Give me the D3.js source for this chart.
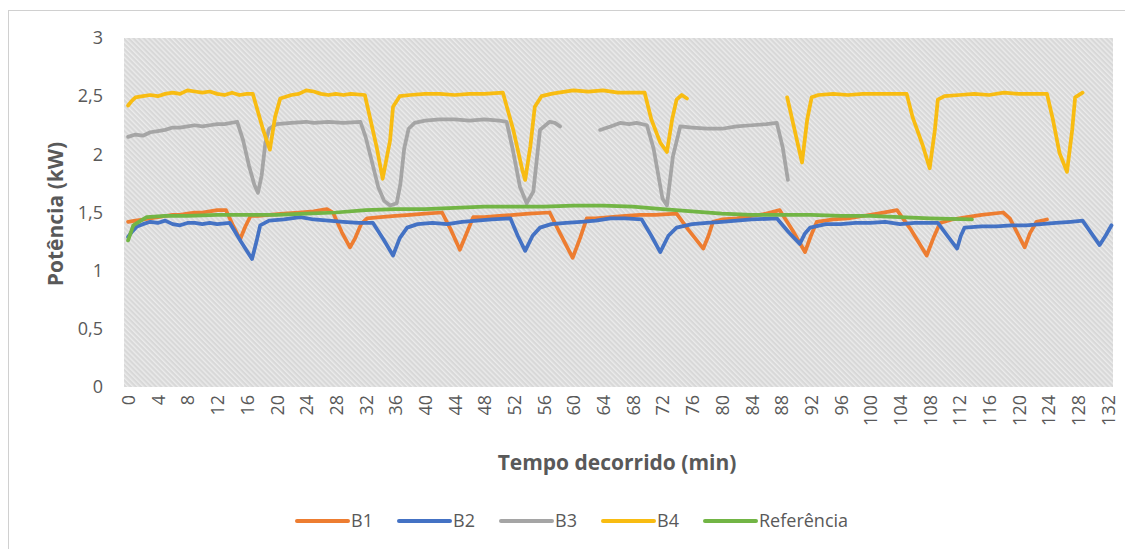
<!DOCTYPE html>
<html>
<head>
<meta charset="utf-8">
<script src="https://cdn.jsdelivr.net/npm/d3@7"></script>
<style>
  body { margin: 0; background: #fff; }
  text { font-family: "Open Sans", "Noto Sans", sans-serif; fill: #595959; }
</style>
</head>
<body>
<script>
// minutes, kW
var b1 = [[0,1.42],[1,1.43],[2,1.44],[3,1.45],[4,1.46],[5,1.47],[6,1.48],[7,1.48],[8,1.49],[9,1.50],[10,1.50],[11,1.51],[12,1.52],[13.2,1.52],
  [14.2,1.38],[15.1,1.27],[15.8,1.38],[16.5,1.47],[17.5,1.47],[19,1.48],[21,1.49],[23,1.50],[25,1.51],[26.8,1.53],[27.6,1.50],[28.8,1.33],
  [29.9,1.20],[30.6,1.28],[31.4,1.40],[32.2,1.45],[34,1.46],[36,1.47],[38,1.48],[40,1.49],[42.3,1.50],[43.5,1.35],[44.7,1.18],[45.6,1.32],
  [46.5,1.46],[48,1.46],[50,1.47],[52,1.48],[54,1.49],[56.8,1.50],[58.2,1.32],[59.9,1.11],[60.9,1.28],[61.8,1.45],[63,1.45],[65,1.46],
  [67,1.47],[69,1.48],[71,1.48],[73.9,1.49],[75.5,1.35],[77.5,1.19],[78.2,1.30],[78.8,1.42],[80,1.44],[82,1.45],[84,1.47],[86,1.49],
  [87.8,1.52],[89.5,1.35],[91.2,1.16],[92,1.30],[92.8,1.42],[95,1.44],[97,1.45],[99,1.47],[101,1.49],[103.6,1.52],[105.5,1.35],[107.6,1.13],
  [108.5,1.28],[109.4,1.41],[111,1.44],[113,1.46],[115,1.48],[117.9,1.50],[118.8,1.45],[120,1.30],[120.8,1.20],[121.5,1.32],[122.4,1.42],[123.8,1.44]];

var b2 = [[0,1.29],[0.6,1.34],[1.2,1.38],[2,1.40],[3,1.42],[4,1.41],[5,1.43],[6,1.40],[7,1.39],[8,1.41],[9,1.41],[10,1.40],[11,1.41],[12,1.40],
  [13.7,1.41],[15.2,1.25],[16.7,1.10],[17.3,1.25],[17.8,1.39],[19,1.43],[21,1.44],[23.2,1.46],[25,1.44],[27,1.43],[29,1.42],[31,1.41],[33,1.41],
  [34.4,1.27],[35.7,1.13],[36.6,1.28],[37.6,1.37],[39,1.40],[41,1.41],[43,1.40],[45,1.42],[47,1.43],[49,1.44],[51.5,1.45],[52.5,1.30],
  [53.5,1.17],[54.5,1.30],[55.5,1.37],[57,1.40],[59,1.41],[61,1.42],[63,1.43],[65,1.45],[67,1.45],[69.2,1.44],[70.5,1.30],[71.7,1.16],
  [72.8,1.30],[73.9,1.37],[76,1.40],[78,1.41],[80,1.42],[82,1.43],[84,1.44],[87.4,1.45],[89,1.33],[90.5,1.23],[91.2,1.32],[91.9,1.37],
  [94,1.40],[96,1.40],[98,1.41],[100,1.41],[102,1.42],[104,1.40],[106,1.41],[109.1,1.41],[110.4,1.30],[111.7,1.19],[112.2,1.30],[112.7,1.37],
  [115,1.38],[117,1.38],[119,1.39],[121,1.39],[123,1.40],[125,1.41],[127,1.42],[128.6,1.43],[129.8,1.32],[130.9,1.22],[131.7,1.30],[132.5,1.39]];

// B3 has a gap between ~58 and ~63.5 min
var b3a = [[0,2.15],[1,2.17],[2,2.16],[3,2.19],[4,2.20],[5,2.21],[6,2.23],[7,2.23],[8,2.24],[9,2.25],[10,2.24],[11,2.25],[12,2.26],[13,2.26],
  [14.7,2.28],[15.5,2.12],[16.3,1.90],[17,1.74],[17.5,1.67],[18,1.82],[18.5,2.10],[19,2.22],[20,2.26],[22,2.27],[24,2.28],[25,2.27],[27,2.28],
  [29,2.27],[31.3,2.28],[32,2.15],[32.8,1.95],[33.7,1.72],[34.5,1.60],[35.3,1.56],[36.2,1.58],[36.7,1.75],[37.2,2.05],[37.8,2.22],[38.6,2.27],
  [40,2.29],[42,2.30],[44,2.30],[46,2.29],[48,2.30],[50,2.29],[51,2.28],[51.8,2.05],[52.8,1.72],[53.7,1.58],[54.6,1.68],[55.5,2.21],
  [56.8,2.28],[57.5,2.27],[58.2,2.24]];
var b3b = [[63.6,2.21],[65,2.24],[66.3,2.27],[67.5,2.26],[68.5,2.27],[69.9,2.25],[70.8,2.05],[72,1.62],[72.6,1.56],[73.4,1.98],[74.4,2.24],
  [76,2.23],[78,2.22],[80,2.22],[82,2.24],[84,2.25],[86,2.26],[87.4,2.27],[88.2,2.06],[88.9,1.78]];

// B4 has a gap between ~75 and ~89 min
var b4a = [[0,2.42],[0.5,2.46],[1,2.49],[2,2.50],[3,2.51],[4,2.50],[5,2.52],[6,2.53],[7,2.52],[8,2.55],[9,2.54],[10,2.53],[11,2.54],[12,2.52],
  [13,2.51],[14,2.53],[15,2.51],[16,2.52],[16.8,2.52],[18.2,2.21],[19.1,2.04],[19.8,2.32],[20.5,2.48],[22,2.51],[23,2.52],[24,2.55],[25,2.54],
  [26,2.52],[27,2.51],[28,2.52],[29,2.51],[30,2.52],[31.9,2.51],[33.5,2.06],[34.3,1.79],[35.3,2.12],[35.7,2.41],[36.6,2.50],[38,2.51],
  [40,2.52],[42,2.52],[44,2.51],[46,2.52],[48,2.52],[50.5,2.53],[51.9,2.21],[53.1,1.87],[53.5,1.78],[54.2,2.07],[54.8,2.41],[55.7,2.50],
  [57,2.52],[58,2.53],[60,2.55],[62,2.54],[64,2.55],[66,2.53],[68,2.53],[69.6,2.53],[70.5,2.30],[71.7,2.10],[72.6,2.02],[73.3,2.30],
  [73.9,2.47],[74.6,2.51],[75.3,2.48]];
var b4b = [[88.8,2.49],[89.8,2.21],[90.8,1.93],[91.5,2.30],[92.1,2.49],[93,2.51],[95,2.52],[97,2.51],[99,2.52],[101,2.52],[103,2.52],
  [104.9,2.52],[105.7,2.32],[107.1,2.07],[108,1.88],[108.7,2.21],[109.1,2.47],[110,2.50],[112,2.51],[114,2.52],[116,2.51],[118,2.53],
  [120,2.52],[122,2.52],[123.8,2.52],[124.6,2.30],[125.5,2.01],[126.5,1.85],[127.2,2.21],[127.6,2.49],[128.6,2.53]];

var ref = [[0,1.26],[0.7,1.39],[2.5,1.46],[5,1.47],[8,1.47],[12,1.48],[16,1.48],[20,1.48],[24,1.49],[28,1.50],[32,1.52],[36,1.53],
  [40,1.53],[44,1.54],[48,1.55],[52,1.55],[56,1.55],[60,1.56],[64,1.56],[68,1.55],[72,1.53],[76,1.51],[80,1.49],[84,1.48],[88,1.48],
  [92,1.48],[96,1.47],[100,1.47],[104,1.46],[108,1.45],[113.7,1.44]];

var seriesNames = ["B1", "B2", "B3", "B4", "Referência"];
var seriesColors = ["#ED7D31", "#4472C4", "#A5A5A5", "#F8BC12", "#72B545"];
var seriesData = [[b1], [b2], [b3a, b3b], [b4a, b4b], [ref]];

var xTicks = d3.range(0, 133, 4);
var yTicks = [0, 0.5, 1, 1.5, 2, 2.5, 3];

var width = 1125;
var height = 549;
var plot = {left: 124, right: 1113, top: 38, bottom: 387};

var ptBR = d3.formatLocale({decimal: ",", thousands: ".", grouping: [3], currency: ["R$", ""]});
var fmt = ptBR.format("~g");

var x = d3.scaleLinear().domain([-0.55, 132.7]).range([plot.left, plot.right]);
var y = d3.scaleLinear().domain([0, 3]).range([plot.bottom, plot.top]);

var svg = d3.select("body").append("svg")
    .attr("width", width)
    .attr("height", height);

// hatched plot background
var pat = svg.append("defs").append("pattern")
    .attr("id", "hatch")
    .attr("patternUnits", "userSpaceOnUse")
    .attr("width", 3.6)
    .attr("height", 3.6)
    .attr("patternTransform", "rotate(-45)");
pat.append("rect").attr("width", 3.6).attr("height", 3.6).attr("fill", "#d8d8d8");
pat.append("rect").attr("width", 1.4).attr("height", 3.6).attr("fill", "#ebebeb");

svg.append("rect")
    .attr("x", 8.5).attr("y", 10.5)
    .attr("width", width).attr("height", height)
    .attr("fill", "#fff")
    .attr("stroke", "#d0d0d0");

svg.append("rect")
    .attr("x", plot.left).attr("y", plot.top)
    .attr("width", plot.right - plot.left).attr("height", plot.bottom - plot.top)
    .attr("fill", "url(#hatch)");

// y axis
var yAxis = d3.axisLeft(y).tickValues(yTicks).tickFormat(fmt).tickSize(0).tickPadding(0);
var gy = svg.append("g").attr("transform", "translate(103,0)").call(yAxis);
gy.select(".domain").remove();
gy.selectAll("text").style("font-size", "18px").attr("fill", "#595959");

// x axis, rotated labels
var xAxis = d3.axisBottom(x).tickValues(xTicks).tickSize(0).tickPadding(0);
var gx = svg.append("g").attr("transform", "translate(0,395)").call(xAxis);
gx.select(".domain").remove();
gx.selectAll("text")
    .attr("transform", "rotate(-90)")
    .attr("text-anchor", "end")
    .attr("x", 0)
    .attr("y", 0)
    .attr("dy", "0.36em")
    .style("font-size", "18px")
    .attr("fill", "#595959");

svg.append("text")
    .attr("x", 617).attr("y", 470)
    .attr("text-anchor", "middle")
    .style("font-size", "21px")
    .style("font-weight", "bold")
    .text("Tempo decorrido (min)");

svg.append("text")
    .attr("transform", "translate(63,214) rotate(-90)")
    .attr("text-anchor", "middle")
    .style("font-size", "21px")
    .style("font-weight", "bold")
    .text("Potência (kW)");

// lines
var line = d3.line()
    .x(function(d) { return x(d[0]); })
    .y(function(d) { return y(d[1]); });

seriesData.forEach(function(parts, i) {
    svg.append("g").selectAll("path")
      .data(parts)
      .enter()
        .append("path")
        .attr("d", line)
        .attr("fill", "none")
        .attr("stroke", seriesColors[i])
        .attr("stroke-width", 3.75)
        .attr("stroke-linejoin", "round")
        .attr("stroke-linecap", "round");
});

// legend
var legendX = [297, 399, 501, 603, 705];
var legend = svg.append("g").selectAll("g")
    .data(seriesNames)
    .enter()
      .append("g")
      .attr("transform", function(d, i) { return "translate(" + legendX[i] + ",521)"; });

legend.append("line")
    .attr("x1", 0).attr("x2", 51)
    .attr("stroke", function(d, i) { return seriesColors[i]; })
    .attr("stroke-width", 4)
    .attr("stroke-linecap", "round");

legend.append("text")
    .attr("x", 54)
    .attr("dy", "0.35em")
    .style("font-size", "18px")
    .text(function(d) { return d; });
</script>
</body>
</html>
